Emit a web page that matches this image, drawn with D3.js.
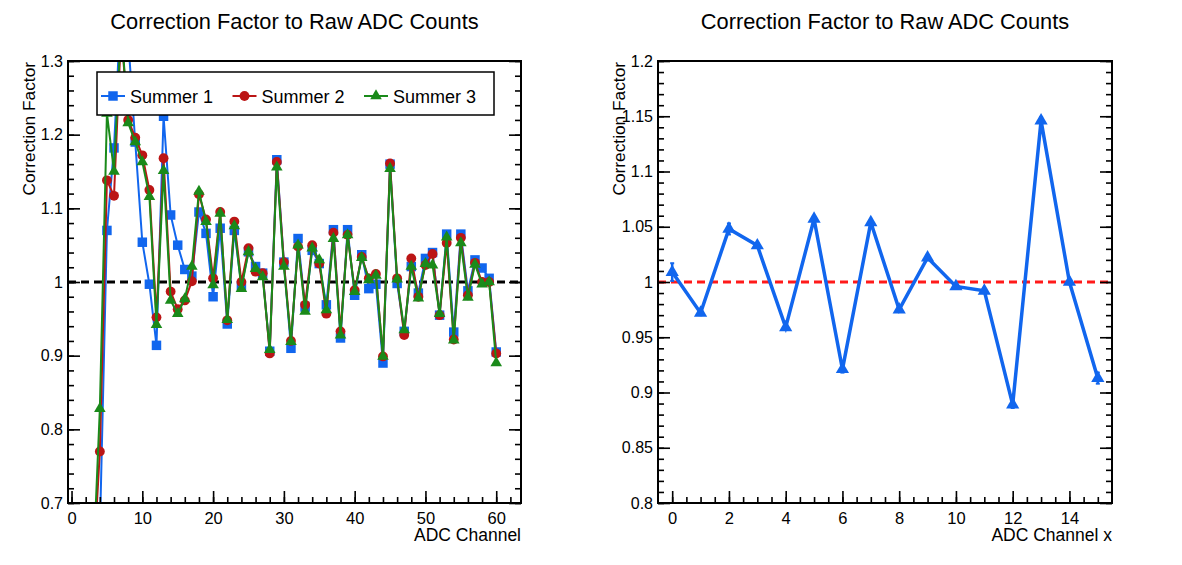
<!DOCTYPE html>
<html>
<head>
<meta charset="utf-8">
<script src="https://cdn.jsdelivr.net/npm/d3@7/dist/d3.min.js"></script>
<style>
  html, body { margin: 0; padding: 0; background: #fff; }
  svg { display: block; font-family: "Liberation Sans", Arial, Helvetica, sans-serif; }
</style>
</head>
<body>
<svg id="chart" width="1182" height="565"></svg>
<script>
// ---------------- DATA ----------------
const channels = [3,4,5,6,7,8,9,10,11,12,13,14,15,16,17,18,19,20,21,22,23,24,25,26,27,28,29,30,31,32,33,34,35,36,37,38,39,40,41,42,43,44,45,46,47,48,49,50,51,52,53,54,55,56,57,58,59,60];
const summer1 = [0.50,0.66,1.070,1.182,1.380,1.330,1.190,1.054,0.997,0.914,1.225,1.091,1.050,1.017,1.008,1.095,1.066,0.980,1.073,0.943,1.070,0.995,1.041,1.021,1.012,0.906,1.166,1.027,0.910,1.059,0.966,1.043,1.025,0.969,1.071,0.924,1.071,0.982,1.037,0.991,0.997,0.890,1.160,0.998,0.933,1.021,0.985,1.032,1.040,0.955,1.065,0.932,1.065,0.988,1.030,1.019,1.005,0.905];
const summer2 = [0.60,0.770,1.138,1.117,1.340,1.220,1.196,1.172,1.125,0.952,1.168,0.987,0.963,0.975,1.001,1.119,1.085,1.005,1.095,0.948,1.082,1.000,1.046,1.014,1.012,0.903,1.163,1.027,0.920,1.048,0.969,1.050,1.025,0.957,1.067,0.933,1.064,0.989,1.034,1.005,1.011,0.899,1.161,1.005,0.928,1.032,0.980,1.023,1.038,0.955,1.053,0.922,1.060,0.982,1.026,1.000,1.000,0.903];
const summer3 = [0.60,0.828,1.229,1.150,1.350,1.216,1.190,1.163,1.116,0.942,1.151,0.975,0.957,0.977,1.021,1.123,1.082,0.996,1.093,0.949,1.076,0.991,1.041,1.018,1.007,0.908,1.156,1.021,0.919,1.050,0.960,1.046,1.030,0.962,1.059,0.928,1.064,0.987,1.033,1.003,1.009,0.899,1.154,1.004,0.935,1.021,0.978,1.025,1.023,0.957,1.061,0.921,1.053,0.979,1.024,0.997,1.000,0.890];
const seriesNames = ["Summer 1", "Summer 2", "Summer 3"];

const channelsX = [0,1,2,3,4,5,6,7,8,9,10,11,12,13,14,15];
const factorX = [1.009,0.972,1.048,1.033,0.959,1.057,0.921,1.054,0.975,1.022,0.996,0.992,0.889,1.146,1.000,0.913];
const factorXErr = [0.008,0.002,0.005,0.002,0.002,0.002,0.003,0.002,0.002,0.002,0.002,0.002,0.003,0.003,0.002,0.005];

const leftYTicks = [0.7,0.8,0.9,1.0,1.1,1.2,1.3];
const leftXTicks = [0,10,20,30,40,50,60];
const rightYTicks = [0.8,0.85,0.9,0.95,1.0,1.05,1.1,1.15,1.2];
const rightXTicks = [0,2,4,6,8,10,12,14];
const titleText = "Correction Factor to Raw ADC Counts";

// ---------------- STYLE ----------------
const colors = ["#1166ee", "#bb1515", "#1a8a1a"];
const symbols = [d3.symbolSquare, d3.symbolCircle, d3.symbolTriangle];
const symbolSizes = [90, 76, 58];

const svg = d3.select("#chart");

function fmt(d) { return String(+d.toFixed(2)); }

function makeFrame(g, x, y, opts) {
  const [x0, x1] = x.range();
  const [y0, y1] = y.range(); // y0 bottom, y1 top
  const minorY = d3.range(y.domain()[0], y.domain()[1] + 1e-9, opts.yMinor).map(v => +v.toFixed(4));
  const minorX = d3.range(opts.xMinorStart, x.domain()[1], opts.xMinor).map(v => +v.toFixed(4));

  g.append("g").attr("transform", `translate(${x0},0)`)
    .call(d3.axisLeft(y).tickValues(minorY).tickSizeInner(-6).tickSizeOuter(0).tickFormat(""))
    .call(s => s.select(".domain").remove());
  g.append("g").attr("transform", `translate(${x0},0)`)
    .call(d3.axisLeft(y).tickValues(opts.yTicks).tickSizeInner(-12).tickSizeOuter(0).tickPadding(5).tickFormat(fmt))
    .call(s => s.select(".domain").remove())
    .call(s => s.selectAll("text").attr("font-size", 16).attr("fill", "#000"));
  g.append("g").attr("transform", `translate(${x1},0)`)
    .call(d3.axisRight(y).tickValues(minorY).tickSizeInner(-6).tickSizeOuter(0).tickFormat(""))
    .call(s => s.select(".domain").remove());
  g.append("g").attr("transform", `translate(${x1},0)`)
    .call(d3.axisRight(y).tickValues(opts.yTicks).tickSizeInner(-12).tickSizeOuter(0).tickFormat(""))
    .call(s => s.select(".domain").remove());
  g.append("g").attr("transform", `translate(0,${y0})`)
    .call(d3.axisBottom(x).tickValues(minorX).tickSizeInner(-6).tickSizeOuter(0).tickFormat(""))
    .call(s => s.select(".domain").remove());
  g.append("g").attr("transform", `translate(0,${y0})`)
    .call(d3.axisBottom(x).tickValues(opts.xTicks).tickSizeInner(-12).tickSizeOuter(0).tickPadding(9).tickFormat(fmt))
    .call(s => s.select(".domain").remove())
    .call(s => s.selectAll("text").attr("font-size", 16.5).attr("fill", "#000"));
  g.selectAll(".tick line").attr("stroke", "#000").attr("stroke-width", 1.6);

  g.append("rect")
    .attr("x", x0).attr("y", y1).attr("width", x1 - x0).attr("height", y0 - y1)
    .attr("fill", "none").attr("stroke", "#000").attr("stroke-width", 2);

  g.append("text").attr("x", (x0 + x1) / 2 + opts.titleShift).attr("y", 29)
    .attr("text-anchor", "middle").attr("font-size", 21.8).text(titleText);
  g.append("text").attr("transform", `translate(${opts.yLabelX},${y1 + 1}) rotate(-90)`)
    .attr("text-anchor", "end").attr("font-size", 17.3).text("Correction Factor");
  g.append("text").attr("x", x1).attr("y", 541)
    .attr("text-anchor", "end").attr("font-size", 17.5).text(opts.xLabel);
}

// ---------------- LEFT PLOT ----------------
const xL = d3.scaleLinear().domain([-0.5, 63.5]).range([68, 521]);
const yL = d3.scaleLinear().domain([0.7, 1.3]).range([503, 61]);
const gL = svg.append("g");

svg.append("clipPath").attr("id", "clipL").append("rect")
  .attr("x", 68).attr("y", 61).attr("width", 453).attr("height", 442);

gL.append("line")
  .attr("x1", xL.range()[0]).attr("x2", xL.range()[1])
  .attr("y1", yL(1)).attr("y2", yL(1))
  .attr("stroke", "#000").attr("stroke-width", 3).attr("stroke-dasharray", "8,5");

const dataL = [summer1, summer2, summer3];
const plotL = gL.append("g").attr("clip-path", "url(#clipL)");
dataL.forEach((vals, i) => {
  const pts = channels.map((c, k) => [c, vals[k]]);
  plotL.append("path")
    .attr("d", d3.line().x(d => xL(d[0])).y(d => yL(d[1]))(pts))
    .attr("fill", "none").attr("stroke", colors[i]).attr("stroke-width", 2);
  plotL.selectAll(null).data(pts).enter().append("path")
    .attr("transform", d => `translate(${xL(d[0])},${yL(d[1])})`)
    .attr("d", d3.symbol().type(symbols[i]).size(symbolSizes[i]))
    .attr("fill", colors[i]);
});

makeFrame(gL, xL, yL, {
  yTicks: leftYTicks, xTicks: leftXTicks, yMinor: 0.02, xMinor: 2, xMinorStart: 0,
  titleShift: 0, yLabelX: 35, xLabel: "ADC Channel"
});

// legend
const leg = gL.append("g");
leg.append("rect").attr("x", 97).attr("y", 72).attr("width", 397).attr("height", 43)
  .attr("fill", "#fff").attr("stroke", "#000").attr("stroke-width", 1.5);
seriesNames.forEach((name, i) => {
  const mx = 113 + 131.5 * i, my = 96;
  leg.append("line").attr("x1", mx - 12).attr("x2", mx + 12).attr("y1", my).attr("y2", my)
    .attr("stroke", colors[i]).attr("stroke-width", 2);
  leg.append("path").attr("transform", `translate(${mx},${my})`)
    .attr("d", d3.symbol().type(symbols[i]).size(symbolSizes[i])).attr("fill", colors[i]);
  leg.append("text").attr("x", mx + 17).attr("y", my + 6.5).attr("font-size", 18).text(name);
});

// ---------------- RIGHT PLOT ----------------
const xR = d3.scaleLinear().domain([-0.5, 15.5]).range([658, 1112]);
const yR = d3.scaleLinear().domain([0.8, 1.2]).range([503, 61]);
const gR = svg.append("g");
svg.append("clipPath").attr("id", "clipR").append("rect")
  .attr("x", 658).attr("y", 61).attr("width", 454).attr("height", 442);

gR.append("line")
  .attr("x1", xR.range()[0]).attr("x2", xR.range()[1])
  .attr("y1", yR(1)).attr("y2", yR(1))
  .attr("stroke", "#ff1a1a").attr("stroke-width", 3).attr("stroke-dasharray", "8,5");

const plotR = gR.append("g").attr("clip-path", "url(#clipR)");
const ptsR = channelsX.map((c, k) => ({x: c, y: factorX[k], e: factorXErr[k]}));
const blueR = "#1166ee";
plotR.append("path")
  .attr("d", d3.line().x(d => xR(d.x)).y(d => yR(d.y))(ptsR))
  .attr("fill", "none").attr("stroke", blueR).attr("stroke-width", 3.5);
const eb = plotR.selectAll(null).data(ptsR).enter().append("g");
eb.append("line").attr("x1", d => xR(d.x)).attr("x2", d => xR(d.x))
  .attr("y1", d => yR(d.y - d.e)).attr("y2", d => yR(d.y + d.e))
  .attr("stroke", blueR).attr("stroke-width", 2.5);
eb.append("line").attr("x1", d => xR(d.x) - 2).attr("x2", d => xR(d.x) + 2)
  .attr("y1", d => yR(d.y + d.e)).attr("y2", d => yR(d.y + d.e))
  .attr("stroke", blueR).attr("stroke-width", 2);
eb.append("line").attr("x1", d => xR(d.x) - 2).attr("x2", d => xR(d.x) + 2)
  .attr("y1", d => yR(d.y - d.e)).attr("y2", d => yR(d.y - d.e))
  .attr("stroke", blueR).attr("stroke-width", 2);
plotR.selectAll(null).data(ptsR).enter().append("path")
  .attr("transform", d => `translate(${xR(d.x)},${yR(d.y)})`)
  .attr("d", d3.symbol().type(d3.symbolTriangle).size(76))
  .attr("fill", blueR);

makeFrame(gR, xR, yR, {
  yTicks: rightYTicks, xTicks: rightXTicks, yMinor: 0.01, xMinor: 0.5, xMinorStart: 0,
  titleShift: 0, yLabelX: 625, xLabel: "ADC Channel x"
});
</script>
</body>
</html>
